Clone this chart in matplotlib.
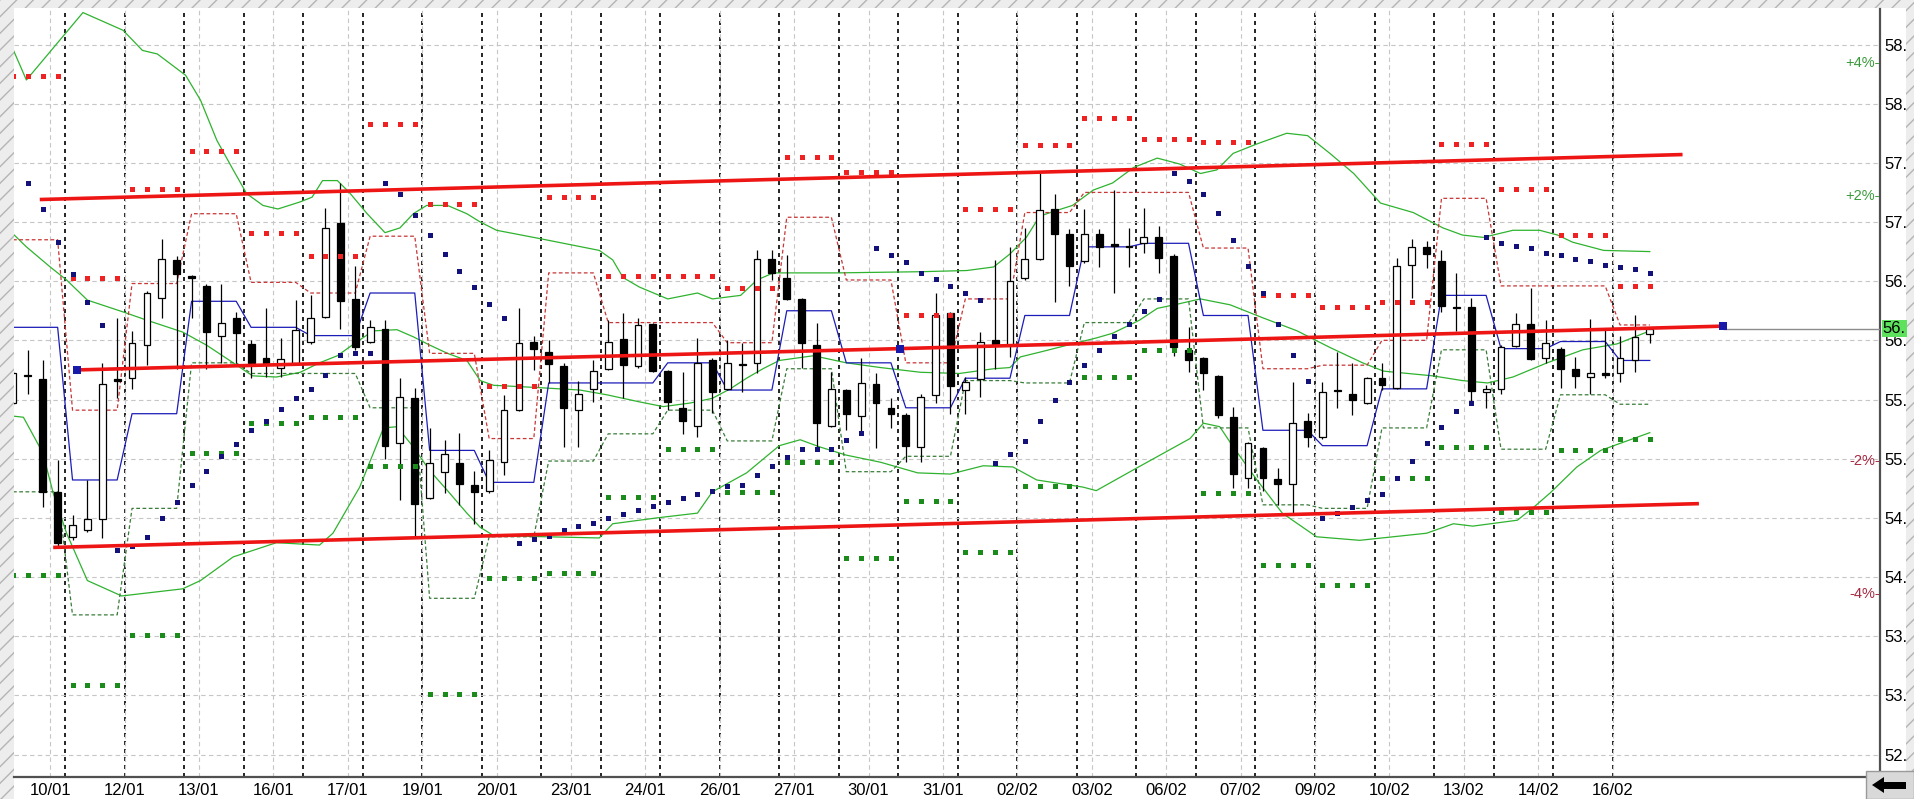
import numpy as np
import matplotlib
matplotlib.use("Agg")
import matplotlib.pyplot as plt
from matplotlib.patches import Rectangle, Polygon
from matplotlib.transforms import blended_transform_factory

plt.rcParams['font.family'] = ['Liberation Sans', 'DejaVu Sans']
plt.rcParams['hatch.linewidth'] = 1.0

DATES = ["10/01","12/01","13/01","16/01","17/01","19/01","20/01","23/01","24/01","26/01","27/01",
         "30/01","31/01","02/02","03/02","06/02","07/02","09/02","10/02","13/02","14/02","16/02"]

# OHLC per bar (price)
OPEN = [55.47,55.71,55.67,54.72,54.34,54.40,54.49,55.67,55.68,55.96,56.36,56.68,56.54,56.46,56.04,56.19,
        55.97,55.85,55.77,55.81,55.99,56.20,56.99,56.35,55.99,56.10,55.13,55.51,54.67,54.89,54.96,54.78,
        54.73,54.97,55.41,55.99,55.90,55.78,55.41,55.59,55.76,56.01,55.78,56.14,55.74,55.43,55.28,55.83,
        55.59,55.80,55.81,56.69,56.53,56.35,55.96,55.28,55.58,55.36,55.63,55.43,55.37,55.10,55.54,56.23,
        55.58,55.67,56.00,55.96,56.53,56.69,57.11,56.90,56.67,56.90,56.81,56.80,56.82,56.87,56.71,55.92,
        55.85,55.70,55.35,54.84,55.09,54.83,54.79,55.32,55.18,55.58,55.55,55.47,55.68,55.60,56.64,56.79,
        56.67,56.28,56.28,55.56,55.59,55.95,56.14,55.85,55.93,55.76,55.69,55.72,55.72,55.83,56.05]
HIGH = [55.74,55.92,55.83,54.99,54.52,54.82,55.81,56.19,56.08,56.42,56.86,56.71,56.55,56.48,56.48,56.24,
        56.00,56.27,56.02,56.34,56.38,57.12,57.33,56.63,56.17,56.17,55.68,55.60,55.26,55.16,55.22,54.90,
        55.07,55.54,56.27,56.04,56.00,55.81,55.66,55.83,56.17,56.23,56.19,56.15,55.75,55.73,56.02,55.85,
        56.00,55.98,56.76,56.76,56.72,56.36,56.15,55.73,55.59,55.85,55.72,55.51,55.39,55.55,56.40,56.24,
        55.69,56.07,56.68,56.79,56.95,57.41,57.24,56.94,57.11,56.94,57.27,56.95,57.12,56.97,56.73,56.11,
        55.86,55.71,55.44,55.14,55.10,54.92,55.65,55.39,55.65,55.90,55.81,55.69,55.81,56.70,56.86,56.84,
        56.76,56.57,56.36,55.62,55.96,56.23,56.44,56.17,55.94,55.86,56.18,56.10,56.04,56.21,56.11]
LOW = [55.45,55.55,54.59,54.25,54.31,54.38,54.33,55.51,55.59,55.79,56.19,55.76,56.19,55.76,55.81,55.81,
       55.68,55.69,55.69,55.80,55.97,56.19,56.10,55.92,55.98,55.00,54.65,54.33,54.66,54.71,54.61,54.45,
       54.71,54.86,55.40,55.75,55.64,55.10,55.10,55.48,55.75,55.51,55.77,55.73,55.41,55.21,55.18,55.39,
       55.58,55.56,55.72,56.51,56.34,55.77,55.09,55.27,55.24,55.21,55.09,55.26,54.97,54.97,55.47,55.38,
       55.38,55.52,55.76,55.86,56.51,56.68,56.32,56.46,56.65,56.62,56.40,56.62,56.74,56.57,55.87,55.73,
       55.58,55.34,54.75,54.75,54.73,54.61,54.54,55.10,55.17,55.43,55.37,55.46,55.58,55.59,56.36,56.61,
       56.24,56.08,55.48,55.43,55.55,55.94,55.83,55.81,55.60,55.60,55.55,55.68,55.65,55.73,55.98]
CLOSE = [55.72,55.70,54.72,54.29,54.44,54.49,55.63,55.66,55.98,56.40,56.69,56.56,56.53,56.07,56.15,56.06,
         55.81,55.80,55.84,56.09,56.19,56.95,56.33,55.94,56.11,55.11,55.52,54.62,54.96,55.04,54.79,54.72,
         54.99,55.41,55.98,55.93,55.80,55.43,55.55,55.74,55.99,55.79,56.13,55.74,55.48,55.32,55.81,55.56,
         55.81,55.79,56.69,56.57,56.35,55.98,55.30,55.59,55.38,55.64,55.47,55.38,55.11,55.52,56.21,55.61,
         55.65,55.99,55.96,56.50,56.69,57.10,56.90,56.63,56.90,56.79,56.80,56.79,56.87,56.70,55.94,55.83,
         55.72,55.37,54.87,55.13,54.84,54.79,55.30,55.18,55.56,55.57,55.50,55.68,55.62,56.63,56.79,56.73,
         56.29,56.27,55.57,55.59,55.94,56.14,55.84,55.98,55.76,55.70,55.72,55.71,55.85,56.03,56.10]

# parabolic SAR per bar
SAR = [None,57.33,57.11,56.83,56.56,56.32,56.13,54.23,54.26,54.34,54.50,54.63,54.78,54.90,55.02,55.12,
       55.24,55.32,55.42,55.51,55.59,55.71,55.88,55.89,55.89,
       57.33,57.24,57.06,56.89,56.73,56.59,56.45,56.31,56.19,
       54.29,54.32,54.35,54.40,54.43,54.46,54.50,54.53,54.57,54.60,54.63,54.67,54.70,54.73,54.77,54.78,
       54.86,54.94,55.01,55.08,55.08,55.08,55.16,55.22,
       56.78,56.72,56.66,56.57,56.52,56.46,56.40,56.34,
       54.96,55.04,55.15,55.32,55.50,55.65,55.79,55.92,56.04,56.14,56.25,56.35,
       57.41,57.35,57.24,57.08,56.85,56.63,56.40,56.14,55.88,55.66,
       54.50,54.54,54.59,54.65,54.70,54.84,54.98,55.13,55.27,55.40,55.47,
       56.87,56.82,56.80,56.78,56.74,56.72,56.69,56.67,56.64,56.62,56.60,56.57]

# one value per 4-bar block
RES_DOTS = [58.23,56.53,57.28,57.60,56.91,56.71,57.83,57.15,55.61,57.21,56.54,56.54,56.44,57.55,
            57.42,56.21,57.11,57.65,57.88,57.70,57.68,56.38,56.28,56.32,57.66,57.28,56.89,56.46]
SUP_DOTS = [54.02,53.09,53.51,55.05,55.30,55.35,54.94,53.01,53.99,54.03,54.68,55.08,54.72,54.97,
            54.16,54.64,54.21,54.77,55.69,55.92,54.71,54.10,53.93,54.84,55.10,54.55,55.07,55.17]
UP_CH = [56.85,55.41,56.48,57.07,56.49,56.40,56.88,55.89,55.17,56.57,56.15,56.15,55.98,57.04,
         56.51,55.81,56.35,57.08,57.25,57.25,56.78,55.76,55.79,56.00,57.20,56.46,56.46,56.13]
DN_CH = [54.72,53.68,54.58,55.81,55.72,55.72,55.43,53.82,54.34,54.98,55.21,55.41,55.15,55.76,
         54.89,55.02,55.66,55.64,56.15,56.35,55.26,54.61,54.58,55.26,55.92,55.08,55.54,55.46]
MID_STEP = [56.11,54.82,55.38,56.33,56.11,56.04,56.40,55.07,54.80,55.64,55.64,55.81,55.58,56.25,
            55.81,55.43,55.68,56.21,56.79,56.82,56.21,55.24,55.11,55.59,56.38,55.93,55.99,55.83]

# bands (bar position, price)
BB_UP_X = [0.0,0.9,4.7,7.4,8.7,9.7,11.6,12.6,13.7,14.8,15.7,16.8,17.8,19.3,20.1,20.8,21.8,22.6,23.8,25.0,
           26.0,26.9,27.8,29.2,30.5,31.4,32.5,35.4,39.4,40.3,41.0,42.1,44.0,46.0,47.0,48.9,50.0,51.1,55.4,61.0,
           64.1,65.9,67.0,68.1,69.0,70.2,71.2,72.6,73.9,75.3,76.9,78.4,79.8,80.9,82.0,83.6,85.6,87.0,88.5,90.1,
           91.9,94.1,96.1,97.4,98.8,100.8,102.6,103.8,104.8,106.9,110.0]
BB_UP = [58.46,58.20,58.77,58.62,58.45,58.42,58.24,58.03,57.69,57.44,57.24,57.14,57.11,57.17,57.21,57.35,
         57.35,57.25,57.07,56.91,56.95,57.07,57.14,57.14,57.07,57.00,56.93,56.86,56.76,56.68,56.53,56.45,
         56.35,56.40,56.35,56.38,56.51,56.57,56.57,56.58,56.59,56.62,56.73,56.87,57.05,57.10,57.14,57.27,
         57.33,57.46,57.54,57.49,57.41,57.44,57.58,57.66,57.75,57.73,57.58,57.41,57.16,57.08,56.95,56.89,
         56.87,56.93,56.93,56.89,56.83,56.76,56.75]
MA_X = [0.0,0.9,2.5,3.6,5.0,7.4,9.0,11.4,13.0,14.8,16.1,17.7,19.3,20.6,21.8,22.8,24.2,25.8,26.9,28.0,
        29.2,30.5,31.4,32.3,35.4,38.1,39.9,42.1,43.7,45.5,47.0,48.2,49.3,50.4,51.5,53.8,56.0,58.3,61.0,63.6,
        65.9,67.0,67.7,69.0,71.2,72.8,73.9,75.7,76.9,78.4,79.8,81.8,84.0,86.3,88.5,90.7,92.1,95.4,97.4,99.1,
        100.8,103.1,105.5,107.8,110.0]
MA = [56.90,56.79,56.62,56.51,56.34,56.24,56.17,56.07,55.96,55.81,55.70,55.69,55.73,55.81,55.87,55.96,
      56.08,56.09,56.03,55.96,55.89,55.83,55.66,55.62,55.60,55.58,55.54,55.48,55.44,55.47,55.51,55.59,
      55.68,55.76,55.83,55.87,55.81,55.77,55.73,55.72,55.76,55.77,55.86,55.90,55.97,56.02,56.06,56.17,
      56.27,56.31,56.35,56.30,56.19,56.08,55.94,55.81,55.74,55.70,55.66,55.64,55.69,55.81,55.92,55.97,56.08]
BB_DN_X = [0.0,0.7,2.0,2.7,3.6,5.0,7.3,11.4,12.6,14.8,17.7,20.6,21.5,23.3,24.9,25.8,26.9,28.0,29.2,30.5,
           31.4,32.3,35.9,39.4,40.3,43.3,46.0,47.0,49.3,51.5,52.9,54.2,56.0,58.3,60.8,63.0,65.2,67.2,68.8,71.9,
           72.8,75.5,79.1,80.0,81.1,82.0,83.6,85.3,87.6,90.5,95.0,96.8,98.1,101.1,102.2,103.3,105.1,106.7,108.9,110.0]
BB_DN = [55.36,55.35,55.05,54.71,54.37,53.97,53.84,53.90,53.97,54.17,54.29,54.27,54.37,54.76,55.26,55.27,
         55.10,54.90,54.73,54.54,54.42,54.35,54.34,54.33,54.45,54.50,54.54,54.72,54.88,55.11,55.16,55.10,
         55.03,54.97,54.88,54.87,54.94,54.93,54.82,54.76,54.73,54.92,55.17,55.30,55.27,55.10,54.82,54.54,
         54.34,54.31,54.37,54.45,54.43,54.48,54.59,54.71,54.93,55.07,55.17,55.22]

# trend channel
TOP_X, TOP_V = [1.8, 112.2], [57.19, 57.57]
MID_X, MID_V = [4.3, 59.6, 114.9], [55.75, 55.93, 56.12]
BOT_X, BOT_V = [2.7, 113.3], [54.25, 54.62]
PCTS = [4, 2, -2, -4]

n = len(OPEN)
assert len(HIGH) == n and len(LOW) == n and len(CLOSE) == n and len(SAR) == n

W, H = 1915, 799
fig = plt.figure(figsize=(W/100, H/100), dpi=100)
fig.patch.set_facecolor('#ededed')
fig.patches.append(Rectangle((0, 0), 1, 1, transform=fig.transFigure, facecolor='none',
                             edgecolor='#b4b4b4', hatch='//', lw=0, zorder=-10))
fig.patches.append(Rectangle((14/W, 0), (1906-14)/W, (H-8)/H, transform=fig.transFigure,
                             facecolor='white', edgecolor='none', zorder=-5))
ax = fig.add_axes([14/W, 22/H, (1880-14)/W, 768/H])
ax.set_xlim(0.067, 125.47); ax.set_ylim(52.31, 58.80)

# grid + day separators
ax.set_yticks(np.arange(52.5, 58.51, 0.5))
ax.set_yticklabels([f"{int(v)}." for v in np.arange(52.5, 58.51, 0.5)])
ax.set_xticks(2.5 + 5*np.arange(len(DATES)))
ax.set_xticklabels(DATES)
ax.grid(True, color='#c6c6c6', ls=(0, (4, 3)), lw=0.8, zorder=0)
for xv in 3.5 + 4*np.arange(27):
    ax.axvline(xv, color='black', ls=(0, (2.4, 2.4)), lw=1.2, zorder=1)

def step_xy(vals):
    xs, ys = [], []
    for p, v in enumerate(vals):
        xs += [4*p, min(4*p+3, n-1)]; ys += [v, v]
    return xs, ys

def block_dots(vals):
    xs, ys = [], []
    for p, v in enumerate(vals):
        for i in range(4*p, min(4*p+4, n)):
            xs.append(i); ys.append(v)
    return xs, ys

g = '#2fb32f'
ax.plot(BB_UP_X, BB_UP, color=g, lw=0.9, zorder=2)
ax.plot(MA_X, MA, color=g, lw=0.9, zorder=2)
ax.plot(BB_DN_X, BB_DN, color=g, lw=0.9, zorder=2)
ax.plot(*step_xy(UP_CH), color='#c83636', lw=0.9, ls=(0, (3, 2)), zorder=2)
ax.plot(*step_xy(DN_CH), color='#3a7d3a', lw=0.9, ls=(0, (3, 2)), zorder=2)
ax.plot(*step_xy(MID_STEP), color='#1c1cb8', lw=0.9, zorder=2)

# candles
x = np.arange(n)
o, h, l, c = map(np.array, (OPEN, HIGH, LOW, CLOSE))
up = c >= o
lo = np.minimum(o, c); ht = np.maximum(np.abs(c - o), 0.006)
ax.vlines(x, l, h, color='black', lw=0.9, zorder=4)
ax.bar(x[up], ht[up], bottom=lo[up], width=0.46, facecolor='white', edgecolor='black', lw=0.9, zorder=5)
ax.bar(x[~up], ht[~up], bottom=lo[~up], width=0.46, facecolor='black', edgecolor='black', lw=0.9, zorder=5)

# dots
ax.plot(*block_dots(RES_DOTS), 's', color='#ee2222', ms=3.6, mew=0, zorder=6)
ax.plot(*block_dots(SUP_DOTS), 's', color='#1b8c1b', ms=3.6, mew=0, zorder=6)
sx = [i for i in range(n) if SAR[i] is not None]
ax.plot(sx, [SAR[i] for i in sx], 's', color='#12127a', ms=3.6, mew=0, zorder=6)

# channel lines
for xs, vs in ((TOP_X, TOP_V), (MID_X, MID_V), (BOT_X, BOT_V)):
    ax.plot(xs, vs, color='#ee1515', lw=2.6, zorder=7, solid_capstyle='butt')
last = CLOSE[-1]
ax.hlines(last, MID_X[-1], ax.get_xlim()[1], color='#8c8c8c', lw=1, zorder=6)
ax.plot(MID_X, MID_V, 's', color='#1a1aa8', ms=5.5, mew=0, zorder=8)

tr = blended_transform_factory(ax.transAxes, ax.transData)
for p in PCTS:
    ax.text(1.0, last*(1 + p/100), f"{p:+d}%-", transform=tr, ha='right', va='center',
            fontsize=10.5, color='#3a9a3a' if p > 0 else '#a82840', zorder=9)
ax.text(1.0015, last, f"{int(last)}.", transform=tr, ha='left', va='center', fontsize=12,
        bbox=dict(facecolor='#5ee25e', edgecolor='none', pad=0.6), zorder=9, clip_on=False)

for s in ('left', 'top'):
    ax.spines[s].set_visible(False)
for s in ('right', 'bottom'):
    ax.spines[s].set_color('#505050'); ax.spines[s].set_linewidth(1.6)
ax.yaxis.tick_right()
ax.tick_params(axis='y', length=0, pad=3, labelsize=12)
ax.tick_params(axis='x', length=0, pad=4, labelsize=12)

# scroll button bottom right
fig.patches.append(Rectangle((1866/W, 0), 48/W, 28/H, transform=fig.transFigure,
                             facecolor='#d9d9d9', edgecolor='#9a9a9a', lw=1, zorder=5))
arr = [(1872, 785), (1884, 777), (1884, 782), (1906, 782), (1906, 789), (1884, 789), (1884, 793)]
fig.patches.append(Polygon([(px/W, 1 - py/H) for px, py in arr], closed=True,
                           transform=fig.transFigure, facecolor='black', edgecolor='none', zorder=6))

fig.savefig("out.png", dpi=100)
